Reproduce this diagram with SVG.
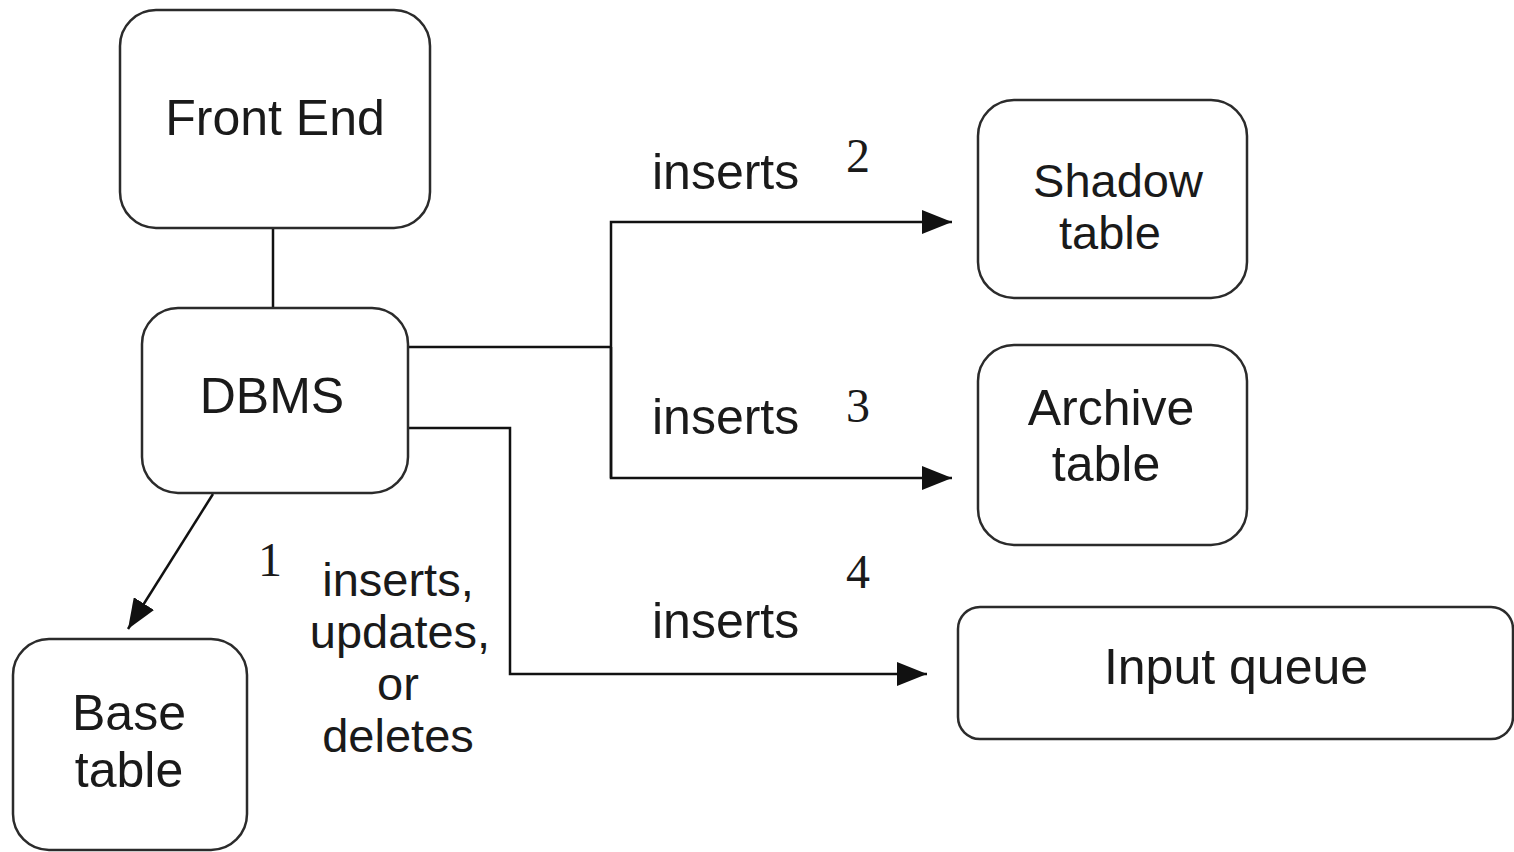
<svg xmlns="http://www.w3.org/2000/svg" width="1514" height="852" viewBox="0 0 1514 852">
<style>
.box{fill:#fff;stroke:#2b2b2b;stroke-width:2.5}
.lbl{font-family:"Liberation Sans",Arial,sans-serif;font-size:50px;fill:#1a1a1a;text-anchor:middle}
.sm{font-size:47px}
.txt{font-family:"Liberation Sans",Arial,sans-serif;font-size:50px;fill:#1a1a1a}
.num{font-family:"Liberation Serif","Times New Roman",serif;font-size:48px;fill:#1a1a1a}
.wire{fill:none;stroke:#111;stroke-width:2.5}
</style>
<defs>
<marker id="arr" markerUnits="userSpaceOnUse" markerWidth="32" markerHeight="24" refX="30" refY="12" orient="auto">
<path d="M0,0 L30,12 L0,24 Z" fill="#111"/>
</marker>
</defs>
<rect width="1514" height="852" fill="#fff"/>
<g id="connectors">
<line class="wire" x1="273" y1="228" x2="273" y2="308"/>
<polyline class="wire" points="408,347 611,347"/>
<polyline class="wire" points="611,478 611,222 952,222" marker-end="url(#arr)"/>
<polyline class="wire" points="611,347 611,478 952,478" marker-end="url(#arr)"/>
<polyline class="wire" points="408,428 510,428 510,674 927,674" marker-end="url(#arr)"/>
<line class="wire" x1="213" y1="494" x2="128" y2="629" marker-end="url(#arr)"/>
</g>
<g id="front-end">
<rect class="box" x="120" y="10" width="310" height="218" rx="36"/>
<text class="lbl" x="275" y="135">Front End</text>
</g>
<g id="dbms">
<rect class="box" x="142" y="308" width="266" height="185" rx="36"/>
<text class="lbl" x="272" y="413">DBMS</text>
</g>
<g id="shadow-table">
<rect class="box" x="978" y="100" width="269" height="198" rx="36"/>
<text class="lbl sm" x="1118" y="197">Shadow</text>
<text class="lbl sm" x="1110" y="249">table</text>
</g>
<g id="archive-table">
<rect class="box" x="978" y="345" width="269" height="200" rx="36"/>
<text class="lbl" x="1111" y="425">Archive</text>
<text class="lbl" x="1106" y="481">table</text>
</g>
<g id="input-queue">
<rect class="box" x="958" y="607" width="555" height="132" rx="22"/>
<text class="lbl" x="1236" y="684">Input queue</text>
</g>
<g id="base-table">
<rect class="box" x="13" y="639" width="234" height="211" rx="36"/>
<text class="lbl" x="129" y="730">Base</text>
<text class="lbl" x="129" y="787">table</text>
</g>
<g id="labels">
<text class="txt" x="652" y="189">inserts</text>
<text class="num" x="846" y="172">2</text>
<text class="txt" x="652" y="434">inserts</text>
<text class="num" x="846" y="422">3</text>
<text class="txt" x="652" y="638">inserts</text>
<text class="num" x="846" y="588">4</text>
<text class="num" x="258" y="576">1</text>
<text class="lbl sm" x="398" y="596">inserts,</text>
<text class="lbl sm" x="400" y="648">updates,</text>
<text class="lbl sm" x="398" y="700">or</text>
<text class="lbl sm" x="398" y="752">deletes</text>
</g>
</svg>
